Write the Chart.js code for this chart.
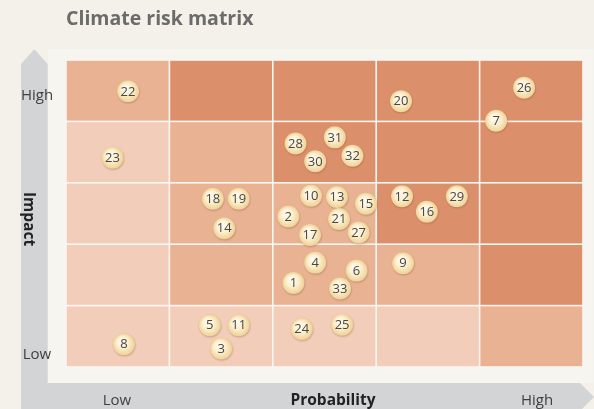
<!DOCTYPE html>
<html><head><meta charset="utf-8">
<style>html,body{margin:0;padding:0;background:#f4f1ea;} canvas{display:block;}</style>
<script src="https://cdn.jsdelivr.net/npm/chart.js@4/dist/chart.umd.min.js"></script>
</head><body>
<div style="width:594px;height:409px;position:relative"><canvas id="c" width="594" height="409"></canvas></div>
<script>
const chartTitle = "Climate risk matrix";
const xAxisTitle = "Probability";
const yAxisTitle = "Impact";
const lowLabel = "Low";
const highLabel = "High";

const riskIds     = [22, 23, 28, 31, 30, 32, 20, 26, 7, 10, 13, 15, 2, 21, 17, 27, 12, 16, 29, 18, 19, 14, 4, 6, 1, 33, 9, 24, 25, 8, 5, 11, 3];
const probability = [0.60, 0.45, 2.22, 2.60, 2.41, 2.77, 3.24, 4.43, 4.16, 2.37, 2.62, 2.90, 2.15, 2.64, 2.36, 2.83, 3.25, 3.49, 3.78, 1.42, 1.67, 1.53, 2.41, 2.81, 2.20, 2.65, 3.26, 2.28, 2.67, 0.56, 1.39, 1.67, 1.50];
const impact      = [4.49, 3.41, 3.64, 3.74, 3.35, 3.44, 4.33, 4.55, 4.01, 2.79, 2.77, 2.66, 2.45, 2.41, 2.15, 2.19, 2.78, 2.53, 2.78, 2.74, 2.74, 2.26, 1.70, 1.57, 1.37, 1.28, 1.69, 0.62, 0.69, 0.37, 0.68, 0.68, 0.30];

// rows: low impact (0) -> high impact (4); columns: low probability -> high probability
const cellLevels = [
  [0, 0, 0, 0, 1],
  [0, 1, 1, 1, 2],
  [0, 1, 1, 2, 2],
  [0, 1, 2, 2, 2],
  [1, 2, 2, 2, 2]
];
const levelColors = ['#f2cdb9', '#e8b293', '#dc8f6b'];

const FONT = '"Open Sans", Lato, sans-serif';

const framePlugin = {
  id: 'frame',
  beforeDatasetsDraw(chart) {
    const ctx = chart.ctx;
    const xs = chart.scales.x, ys = chart.scales.y;
    ctx.save();
    // inner light area
    ctx.fillStyle = '#f7f5f0';
    ctx.fillRect(47.7, 49, 546, 334);
    // vertical arrow
    ctx.fillStyle = '#d3d4d6';
    ctx.beginPath();
    ctx.moveTo(21, 409); ctx.lineTo(21, 64); ctx.lineTo(34.3, 49.3); ctx.lineTo(47.7, 64); ctx.lineTo(47.7, 409);
    ctx.closePath(); ctx.fill();
    // horizontal arrow
    ctx.beginPath();
    ctx.moveTo(21, 383); ctx.lineTo(580, 383); ctx.lineTo(594, 397); ctx.lineTo(580, 411); ctx.lineTo(21, 411);
    ctx.closePath(); ctx.fill();

    // matrix cells
    const L = xs.getPixelForValue(0), R = xs.getPixelForValue(5);
    const T = ys.getPixelForValue(5), B = ys.getPixelForValue(0);
    ctx.fillStyle = '#fbf6f1';
    ctx.fillRect(L, T, R - L, B - T);
    const g = 0.8;
    for (let r = 0; r < 5; r++) {
      for (let c = 0; c < 5; c++) {
        const x0 = xs.getPixelForValue(c), x1 = xs.getPixelForValue(c + 1);
        const y0 = ys.getPixelForValue(r + 1), y1 = ys.getPixelForValue(r);
        ctx.fillStyle = levelColors[cellLevels[r][c]];
        ctx.fillRect(x0 + g, y0 + g, x1 - x0 - 2 * g, y1 - y0 - 2 * g);
      }
    }

    // title
    ctx.fillStyle = '#6b6b6b';
    ctx.font = 'bold 19.5px ' + FONT;
    ctx.textAlign = 'left'; ctx.textBaseline = 'alphabetic';
    ctx.fillText(chartTitle, 66, 25);

    // axis labels
    ctx.fillStyle = '#404040';
    ctx.font = '15px ' + FONT;
    ctx.textAlign = 'center';
    ctx.fillText(highLabel, 37, 100);
    ctx.fillText(lowLabel, 37, 359);
    ctx.fillText(lowLabel, 117, 405);
    ctx.fillText(highLabel, 537, 405);
    ctx.fillStyle = '#222';
    ctx.font = 'bold 15.5px ' + FONT;
    ctx.fillText(xAxisTitle, 333, 405);
    ctx.save();
    ctx.translate(28, 219);
    ctx.rotate(Math.PI / 2);
    ctx.textBaseline = 'middle';
    ctx.fillText(yAxisTitle, 0, 0);
    ctx.restore();
    ctx.restore();
  },
  afterDatasetsDraw(chart) {
    const ctx = chart.ctx;
    const meta = chart.getDatasetMeta(0);
    ctx.save();
    meta.data.forEach((el, i) => {
      const x = el.x, y = el.y, r = 11;
      ctx.save();
      ctx.shadowColor = 'rgba(120,70,40,0.35)';
      ctx.shadowBlur = 2;
      ctx.shadowOffsetX = 0.5;
      ctx.shadowOffsetY = 1;
      const grad = ctx.createRadialGradient(x - 3, y - 4, 0, x, y, r);
      grad.addColorStop(0, '#fffcf3');
      grad.addColorStop(0.55, '#fbefcf');
      grad.addColorStop(1, '#efd195');
      ctx.fillStyle = grad;
      ctx.beginPath(); ctx.arc(x, y, r, 0, Math.PI * 2); ctx.fill();
      ctx.restore();
      ctx.fillStyle = '#474747';
      ctx.font = '13px ' + FONT;
      ctx.textAlign = 'center'; ctx.textBaseline = 'middle';
      ctx.fillText(String(riskIds[i]), x, y + 0.5);
    });
    ctx.restore();
  }
};

new Chart(document.getElementById('c'), {
  type: 'scatter',
  data: {
    datasets: [{
      data: probability.map((p, i) => ({ x: p, y: impact[i] })),
      pointRadius: 11,
      pointHoverRadius: 11,
      backgroundColor: 'rgba(0,0,0,0)',
      borderWidth: 0
    }]
  },
  options: {
    responsive: false,
    animation: false,
    events: [],
    layout: { padding: { left: 66, top: 60, right: 11, bottom: 42 } },
    plugins: { legend: { display: false }, tooltip: { enabled: false }, title: { display: false } },
    scales: {
      x: { type: 'linear', min: 0, max: 5, display: false },
      y: { type: 'linear', min: 0, max: 5, display: false }
    }
  },
  plugins: [framePlugin]
});
</script>
</body></html>
